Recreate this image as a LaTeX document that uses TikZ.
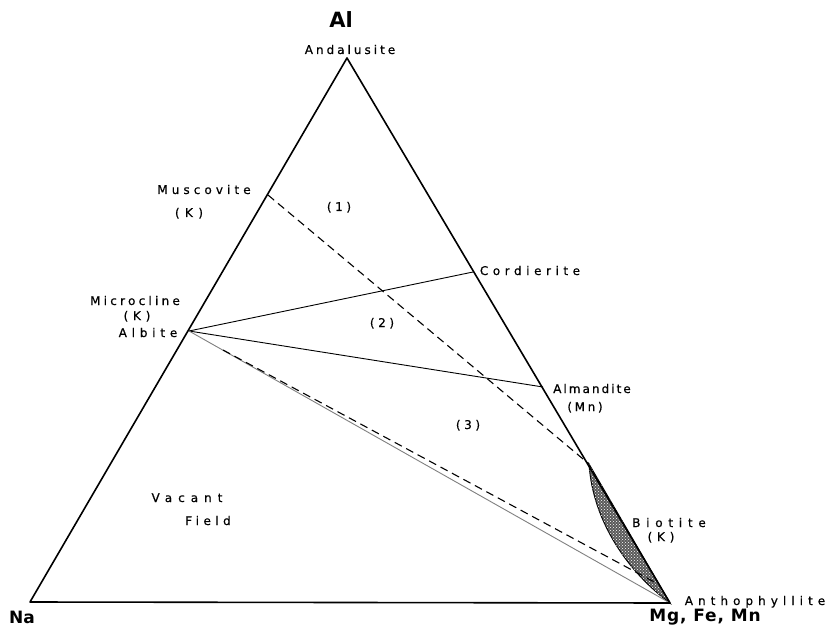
\documentclass[tikz,border=0pt]{standalone}
\usepackage{fontspec}
\setmainfont{DejaVu Sans}
\newfontfamily\lblfont[FakeBold=0.5]{DejaVu Sans}
\usetikzlibrary{patterns}
\newcommand{\lsp}[2]{{\addfontfeature{LetterSpace=#1}#2}}
\begin{document}
\begin{tikzpicture}[x=1pt,y=-1pt,
  edge/.style={line width=1.6pt, line join=round},
  tie/.style={line width=0.9pt},
  dashtie/.style={line width=1.1pt, dash pattern=on 8pt off 5pt},
  lbl/.style={font=\lblfont\fontsize{12}{12}\selectfont, inner sep=0pt, anchor=base},
  big/.style={font=\bfseries\fontsize{21}{21}\selectfont, inner sep=0pt, anchor=base},
  mid/.style={font=\bfseries\fontsize{17}{17}\selectfont, inner sep=0pt, anchor=base}]
\fill[white] (0,0) rectangle (826,628);
\useasboundingbox (0,0) rectangle (826,628);
% vertices and points
\coordinate (A) at (347,58);
\coordinate (Na) at (30,602);
\coordinate (Mg) at (670,603);
\coordinate (Ab) at (189,331);
\coordinate (Cd) at (473,272);
\coordinate (Alm) at (543,387);
\coordinate (Ms) at (268,195);
\coordinate (Bt) at (589,464);
\coordinate (AbD) at (223,350);
\coordinate (MgD) at (658,584);
% biotite lens
\draw[line width=1pt, fill=black!65] (Bt) .. controls (593,522) and (628,572) .. (Mg) -- cycle;
\fill[pattern=crosshatch dots, pattern color=white] (Bt) .. controls (593,522) and (628,572) .. (Mg) -- cycle;
% tie lines
\draw[tie] (Ab) -- (Cd);
\draw[tie] (Ab) -- (Alm);
\draw[tie, black!50] (Ab) -- (Mg);
\draw[dashtie] (Ms) -- (Bt);
\draw[dashtie] (AbD) -- (MgD);
% triangle
\draw[edge] (A) -- (Na) -- (Mg) -- cycle;
% labels
\node[big] (lAl) at (341,28) {Al};
\node[lbl] (lAnd) at (350,54) {\lsp{25}{Andalusite}};
\node[lbl] (lMs) at (204,194) {\lsp{34}{Muscovite}};
\node[lbl] (lMsK) at (189,217) {\lsp{45}{(K)}};
\node[lbl] (l1) at (339,211) {\lsp{30}{(1)}};
\node[lbl] (lMc) at (135,305) {\lsp{27}{Microcline}};
\node[lbl] (lMcK) at (137,320) {\lsp{40}{(K)}};
\node[lbl] (lAb) at (148,337) {\lsp{40}{Albite}};
\node[lbl] (lCd) at (530,275) {\lsp{38}{Cordierite}};
\node[lbl] (l2) at (382,327) {\lsp{30}{(2)}};
\node[lbl] (lAlm) at (592,393) {\lsp{17}{Almandite}};
\node[lbl] (lMn) at (585,411) {\lsp{22}{(Mn)}};
\node[lbl] (l3) at (468,429) {\lsp{30}{(3)}};
\node[lbl] (lVac) at (187,502) {\lsp{50}{Vacant}};
\node[lbl] (lFld) at (208,525) {\lsp{37}{Field}};
\node[lbl] (lBt) at (669,527) {\lsp{48}{Biotite}};
\node[lbl] (lBtK) at (661,541) {\lsp{40}{(K)}};
\node[lbl] (lAn) at (755,605) {\lsp{42}{Anthophyllite}};
\node[mid] (lNa) at (22,623) {Na};
\node[mid] (lMg) at (705,621) {\lsp{5}{Mg, Fe, Mn}};
\end{tikzpicture}
\end{document}
